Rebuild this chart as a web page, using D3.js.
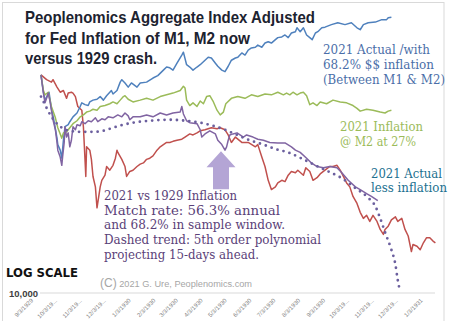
<!DOCTYPE html>
<html><head><meta charset="utf-8">
<script src="https://cdn.jsdelivr.net/npm/d3@7"></script>
<style>body{margin:0;background:#fff}svg{display:block}</style>
</head><body>
<svg id="c" width="450" height="321"></svg>
<script>
// ---------- DATA ----------
const startDate = "1929-09-03";
const tickLabels = ["9/3/1929","10/3/19...","11/3/19...","12/3/19...","1/3/1930","2/3/1930","3/3/1930","4/3/1930","5/3/1930","6/3/1930","7/3/1930","8/3/1930","9/3/1930","10/3/19...","11/3/19...","12/3/19...","1/3/1931"];
const yTickValues = [10000];

// 1929 Dow (red) — x = days after 9/3/1929
const redDays = [0,7,13,15,20,24,28,32,34,38,40,43,46,51,53,55,56,57,61,63,65,68,70,74,76,80,82,86,90,93,95,96,101,105,107,111,115,120,124,128,132,136,140,145,149,153,157,161,165,170,176,180,186,190,195,199,205,209,213,220,224,230,234,238,243,251,259,268,271,276,280,284,288,293,296,301,305,309,313,318,321,328,331,336,340,345,349,355,361,365,370,374,378,382,386,390,395,399,403,407,411,415,420,424,428,430,434,438,443,446,451,455,459,463,465,470,474,478,482,486,490,493];
const redValues = [27300,26700,26400,26700,25800,25200,25400,24500,25100,25200,25100,24700,23600,23200,21500,18500,17100,19600,19300,18500,17100,16300,14800,16300,16800,17200,17900,17600,18000,18600,19300,19100,18500,17900,17100,17500,17600,17900,18100,18200,18500,18600,18800,19300,19600,19800,20000,20000,20100,20200,20300,20500,20800,20700,20900,21100,21200,21300,21400,21300,21400,21200,20700,20000,20500,20000,20000,19600,19800,18700,17900,16800,16100,16300,16600,16800,16700,17200,17500,17400,17600,17200,17800,17500,16800,17000,17300,17600,17900,17900,18000,17600,17100,16600,16300,15600,15100,14500,14100,14300,13900,14300,13900,13400,13100,13400,13600,14000,14200,13900,14100,13400,13000,12100,12500,12400,12200,12600,12900,12900,12700,12600];

// 2021 Actual with 68.2% inflation (blue)
const blueDays = [0,3,5,8,10,13,16,20,21,24,26,28,30,34,36,40,45,49,51,55,59,61,65,70,74,78,82,88,90,95,99,101,105,109,113,120,124,132,140,146,153,157,161,165,170,176,178,182,186,190,195,199,205,209,213,218,221,226,230,234,238,243,246,251,255,259,263,268,271,276,280,284,288,293,296,301,305,309,313,318,320,324,328,332,336,339,343,346,351,355,363,371,380,388,395,399,403,409,418,426,432,434,438];
const blueValues = [27300,25200,24300,24800,25200,23400,22200,20400,19800,19300,18600,20200,21500,21700,22000,22500,22900,23600,24000,23800,23700,24100,24300,24400,24700,24300,24800,25400,25000,25400,26400,26700,26300,25800,26300,25800,26300,26400,26900,27200,27900,28300,28200,27900,28800,29900,30300,28600,28300,27900,28300,28600,29200,29600,29500,28800,28400,27900,27700,28400,29200,29500,29600,30200,29900,30600,30900,31000,31300,31000,31600,31800,31600,32100,32400,32500,32800,32400,33100,33300,33900,33300,33900,32800,32400,32100,33100,33300,33900,34000,34400,34700,34400,34700,33900,33600,34400,34700,34800,35200,35200,35500,35600];

// 2021 Inflation @ M2 at 27% (green)
const greenDays = [0,3,5,9,13,18,21,26,28,32,36,40,45,49,53,57,61,65,70,74,80,86,90,95,99,103,105,109,115,124,132,140,149,157,165,174,178,180,182,186,190,195,199,203,207,211,215,220,224,228,231,238,246,255,263,271,280,288,296,303,307,311,315,320,324,328,332,336,340,345,349,357,365,374,382,390,395,399,407,415,424,430,434,438];
const greenValues = [27300,25400,24900,25200,23600,22400,21400,20400,20900,21000,21400,21800,22100,22500,22700,23000,23100,23300,23200,23600,23700,23900,24100,23900,24300,24700,24800,24400,24100,24300,24500,24300,24700,24900,25100,25400,25900,25700,24300,23700,24000,23600,24200,23900,24700,24800,24200,23200,22700,23000,23900,24500,24700,24500,24900,24700,25000,24900,25200,24900,25100,24900,25200,24900,25100,25200,24800,23800,24000,23700,24100,23900,24300,24100,24000,23700,23400,23100,23300,23200,23000,22900,23100,23200];

// 2021 Actual less inflation (purple)
const purpleDays = [0,3,5,7,9,11,13,15,18,20,21,24,26,27,29,30,32,34,36,38,40,43,45,49,51,55,59,63,68,71,76,80,84,90,96,101,105,109,111,115,124,132,140,149,157,165,174,176,178,182,186,195,199,201,205,211,218,221,226,230,232,234,236,240,245,253,257,265,271,278,286,296,305,313,318,324,332,338,345,353,361,370,376,384,393,399,407,413,421];
const purpleValues = [27300,25100,24000,24500,25100,24300,23200,22200,21200,20000,19300,18700,18000,18700,20000,21500,20500,20900,19600,20200,21500,21200,21700,21600,22000,21800,22100,22000,22400,22000,22300,22200,22500,22400,22700,22500,22900,22600,22200,22500,22500,22700,22500,22900,22700,22900,23000,23600,22800,22100,21900,21800,21200,20500,20800,21100,20800,20200,19800,19300,19600,20200,20700,20800,20900,20500,20700,20500,20300,20200,20000,19950,19950,19600,19300,19100,18600,18200,17900,17800,17900,17800,17400,16800,16300,16100,15800,15600,15300];

// 5th order polynomial trend (dotted)
const trendDays = [0,5,9,14,20,26,36,49,65,78,90,103,115,136,161,181,199,215,230,245,261,278,293,309,325,343,359,375,393,409,418,424,431,438,443,446,449];
const trendValues = [24700,23800,23100,22400,21800,21400,21100,21000,21000,21100,21400,21700,21900,22100,22200,22100,21900,21600,21200,20700,20200,19800,19400,19100,18600,18000,17500,17000,16200,15500,14900,14100,13100,12200,11400,10600,10050];

// ---------- CHART ----------
const svg = d3.select("#c");
const t0 = d3.utcParse("%Y-%m-%d")(startDate);
const day = d => d3.utcDay.offset(t0, d);
const x = d3.scaleUtc().domain([t0, day(487)]).range([41, 430.6]);
const y = d3.scaleLog().domain([10000, 38000]).range([293, 3]);

// chart border
svg.append("rect").attr("x",2.5).attr("y",2.5).attr("width",441.5).attr("height",330)
  .attr("fill","none").attr("stroke","#d9d9d9").attr("stroke-width",1);

// gridline
svg.append("line").attr("x1",40).attr("x2",435).attr("y1",y(10000)).attr("y2",y(10000))
  .attr("stroke","#d9d9d9").attr("stroke-width",1);

// x axis
const tickDates = d3.range(tickLabels.length).map(i => d3.utcMonth.offset(t0, i));
const xAxis = svg.append("g").attr("transform",`translate(0,${y(10000)})`)
  .call(d3.axisBottom(x).tickValues(tickDates).tickFormat((d,i)=>tickLabels[i]).tickSize(0));
xAxis.select(".domain").remove();
xAxis.selectAll("text")
  .attr("x",0).attr("y",0).attr("dy",0)
  .attr("text-anchor","end")
  .attr("transform","translate(-8,8) rotate(-45)")
  .attr("font-family","Liberation Sans, Arial, sans-serif")
  .attr("font-size",6).attr("fill","#7f7f7f");

// y axis (only 10,000 label)
const yAxis = svg.append("g").attr("transform","translate(39,0)")
  .call(d3.axisLeft(y).tickValues(yTickValues).tickFormat(d3.format(",")).tickSize(0));
yAxis.select(".domain").remove();
yAxis.selectAll("text").attr("x",-1).attr("dy","0.32em")
  .attr("font-family","Liberation Sans, Arial, sans-serif").attr("font-weight","bold")
  .attr("font-size",9.5).attr("fill","#404040");

// series
const zip = (ds, vs) => ds.map((d,i)=>[d, vs[i]]);
const line = d3.line().x(d=>x(day(d[0]))).y(d=>y(d[1]));
const series = [
  {data: zip(redDays, redValues), color:"#c0504d"},
  {data: zip(blueDays, blueValues), color:"#4f81bd"},
  {data: zip(greenDays, greenValues), color:"#9bbb59"},
  {data: zip(purpleDays, purpleValues), color:"#8064a2"}
];
series.forEach(s => {
  svg.append("path").attr("d", line(s.data)).attr("fill","none")
    .attr("stroke", s.color).attr("stroke-width",1.5).attr("stroke-linejoin","round");
});
const trendLine = d3.line().x(d=>x(day(d[0]))).y(d=>y(d[1])).curve(d3.curveMonotoneX);
svg.append("path").attr("d", trendLine(zip(trendDays, trendValues))).attr("fill","none")
  .attr("stroke","#6b5f9e").attr("stroke-width",2.8).attr("stroke-linecap","round")
  .attr("stroke-dasharray","0 6.2");

// arrow (pointing at the purple dip)
const ax = x(day(225)), ay = y(19300) + 1;
const arrowPts = [[ax,ay],[ax+14.5,ay+16],[ax+8,ay+16],[ax+8,ay+38],[ax-8,ay+38],[ax-8,ay+16],[ax-14.5,ay+16]];
svg.append("polygon").attr("points", arrowPts.map(p=>p.join(",")).join(" "))
  .attr("fill","#b4a5d5");

// title
const title = [
  {t:"Peoplenomics Aggregate Index Adjusted", y:23, w:290},
  {t:"for Fed Inflation of M1, M2 now", y:43.5, w:225},
  {t:"versus 1929 crash.", y:64, w:132}
];
title.forEach(l => svg.append("text").text(l.t).attr("x",25).attr("y",l.y)
  .attr("font-family","'Liberation Sans Narrow', 'Liberation Sans', Arial, sans-serif")
  .attr("font-weight","bold").attr("font-size",17).attr("fill","#1d2330")
  .attr("textLength", l.w).attr("lengthAdjust","spacingAndGlyphs"));

// annotations
function note(lines, x0, color) {
  lines.forEach(l => svg.append("text").text(l.t).attr("x",x0).attr("y",l.y)
    .attr("font-family","'DejaVu Serif', 'Liberation Serif', serif")
    .attr("font-size",12).attr("fill",color)
    .attr("textLength", l.w).attr("lengthAdjust","spacingAndGlyphs"));
}
note([{t:"2021 Actual /with",y:54,w:107},{t:"68.2% $$ inflation",y:68.5,w:111},{t:"(Between M1 & M2)",y:83.5,w:122}], 323, "#4a6ea8");
note([{t:"2021 Inflation",y:131,w:83},{t:"@ M2 at 27%",y:146,w:76}], 340, "#9bbb59");
note([{t:"2021 Actual",y:177.5,w:71},{t:"less inflation",y:192,w:76}], 371, "#21708f");
note([
  {t:"2021 vs 1929 Inflation",y:200,w:133},
  {t:"Match rate: 56.3% annual",y:214.5,w:176},
  {t:"and 68.2% in sample window.",y:229,w:181},
  {t:"Dashed trend: 5th order polynomial",y:244,w:217},
  {t:"projecting 15-days ahead.",y:259,w:155}
], 104, "#5a4178");

// LOG SCALE
svg.append("text").text("LOG SCALE").attr("x",6).attr("y",276.5)
  .attr("font-family","'Comic Sans MS', 'DejaVu Sans', sans-serif").attr("font-weight","bold")
  .attr("font-size",11.5).attr("fill","#111")
  .attr("textLength",72).attr("lengthAdjust","spacingAndGlyphs");

// copyright
const cp = svg.append("text").attr("x",100).attr("y",287)
  .attr("font-family","'Liberation Sans', Arial, sans-serif").attr("fill","#a6a6a6");
cp.append("tspan").attr("font-size",12).text("(C)");
cp.append("tspan").attr("font-size",9.2).text(" 2021 G. Ure, Peoplenomics.com");
</script>
</body></html>
